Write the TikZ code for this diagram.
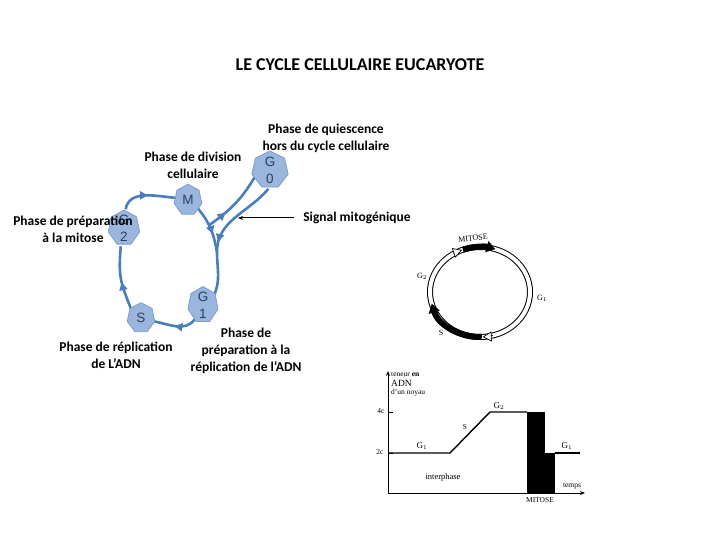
\documentclass[tikz,border=0pt]{standalone}
\usepackage{fontspec}
\setmainfont{Carlito}
\newfontfamily\arialf{Liberation Sans}
\newfontfamily\timesf{Liberation Serif}
\usetikzlibrary{arrows.meta,decorations.markings,shapes.geometric,calc}
\pgfdeclarelayer{bg}
\pgfsetlayers{bg,main}

\definecolor{loopblue}{HTML}{4A7EBB}
\definecolor{hepfill}{HTML}{9AB5DE}
\definecolor{hepdraw}{HTML}{7F9CCB}
\definecolor{heptext}{HTML}{2F3F5A}

\tikzset{
  loopline/.style={draw=loopblue, line width=2.6pt},
  marr/.style={postaction={decorate, decoration={markings,
      mark=at position #1 with {\arrow{Triangle[length=8pt,width=8pt]}}}}},
  hnode/.style={ellipse, inner sep=0pt, font=\arialf\fontsize{13.5}{17}\selectfont, text=heptext, align=center},
  hepshape/.style={draw=hepdraw, fill=hepfill, line width=0.8pt},
  lab/.style={font=\bfseries\fontsize{13.5}{16.8}\selectfont, align=center},
  ringlab/.style={font=\timesf\fontsize{8}{9}\selectfont, inner sep=0pt},
  graphlab/.style={font=\timesf\fontsize{7.5}{9}\selectfont, inner sep=0pt},
}

\newcommand\heptnode[6]{%
  \draw[hepshape, shift={(#2,#3)}, xscale=#4/1.56, yscale=#5/1.9]
    (90:1) -- (141.43:1) -- (192.86:1) -- (244.29:1) -- (295.71:1) -- (347.14:1) -- (38.57:1) -- cycle;
  \node[hnode, minimum width=#4pt, minimum height=#5pt] (#1) at (#2,#3) {#6};}

\begin{document}
\begin{tikzpicture}[x=1pt,y=1pt]
\useasboundingbox (0,0) rectangle (720,540);
\begin{pgfonlayer}{bg}
\fill[white] (0,0) rectangle (720,540);
\end{pgfonlayer}

% title
\node[font=\bfseries\fontsize{18}{21}\selectfont] (title) at (360,475) {LE CYCLE CELLULAIRE EUCARYOTE};

% heptagon nodes
\heptnode{M}{188}{340}{22}{30}{M}
\heptnode{G0}{270}{370}{29}{36}{G\\0}
\heptnode{G2}{124}{312}{25}{34}{G\\2}
\heptnode{S}{141}{222}{22}{29}{S}
\heptnode{G1}{203}{235}{24}{35}{G\\1}

\coordinate (J) at (217,288);

\begin{pgfonlayer}{bg}
  \draw[loopline, marr=0.5] (G2.85) to[out=80, in=175] (M.170);
  \draw[loopline, marr=0.62] (M.-40) to[out=-50, in=100] coordinate[pos=0.42] (B) (J);
  \draw[loopline] (J) to[out=-90, in=65] (G1.40);
  \draw[loopline, marr=0.5] (G1.-120) to[out=-125, in=-10] (S.-15);
  \draw[loopline, marr=0.45] (S.140) to[out=112, in=-95, looseness=1.2] (G2.-100);
  \draw[loopline, marr=0.3] (B) to[out=35, in=-120] (G0.200);
  \draw[loopline, marr=0.88] (G0.-95) to[out=-130, in=90] (J);
\end{pgfonlayer}

% labels
\node[lab] (ldiv) at (193,375) {Phase de division\\cellulaire};
\node[lab] (lqui) at (326,402) {Phase de quiescence\\hors du cycle cellulaire};
\node[lab] (lprep) at (73,311) {Phase de préparation\\à la mitose};
\node[lab] (lrep) at (116,185) {Phase de réplication\\de L’ADN};
\node[lab] (lprepadn) at (246,189) {Phase de\\préparation à la\\réplication de l’ADN};
\node[lab] (sig) at (357,322) {Signal mitogénique};
\coordinate (sigend) at (238,322);
\draw[line width=1pt, -{Stealth[length=5pt,width=4pt]}] ([xshift=-6pt]sig.west) -- (sigend);

% cell cycle ring
\coordinate (rc) at (480,248);
\draw[black, line width=6pt] (rc) ellipse [x radius=50, y radius=45];
\draw[white, line width=4pt] (rc) ellipse [x radius=50, y radius=45];
\draw[line width=6pt, -{Triangle[length=9pt,width=11pt]}] ($(rc)+(110:50 and 45)$) arc[start angle=110, end angle=72, x radius=50, y radius=45];
\draw[line width=6pt, -{Triangle[length=9pt,width=11pt]}] ($(rc)+(-88:50 and 45)$) arc[start angle=-88, end angle=-165, x radius=50, y radius=45];
\draw[line width=0.7pt, -{Triangle[length=9pt,width=10pt,fill=white]}] ($(rc)+(122:50 and 45)$) arc[start angle=122, end angle=111, x radius=50, y radius=45];
\draw[line width=0.7pt, -{Triangle[length=9pt,width=10pt,fill=white]}] ($(rc)+(-75:50 and 45)$) arc[start angle=-75, end angle=-87, x radius=50, y radius=45];
\node[ringlab, rotate=6] (rmit) at (473,302) {MITOSE};
\node[ringlab] (rg2) at (422,264) {G$_2$};
\node[ringlab] (rg1) at (542,242) {G$_1$};
\node[ringlab] (rs) at (441,207) {S};

% DNA content graph
\draw[line width=0.8pt, -{Stealth[length=5pt,width=4pt]}] (388,47) -- (388,169);
\draw[line width=0.8pt, -{Stealth[length=5pt,width=4pt]}] (388,47) -- (585,47);
\draw[line width=0.8pt] (388,128) -- (393,128);
\draw[line width=0.8pt] (388,87) -- (393,87);
\draw[line width=1.4pt] (388,87) -- (450,87) -- (490,128) -- (527,128);
\fill (527,47) rectangle (545,128);
\fill (545,47) rectangle (555,87);
\draw[line width=1.4pt] (555,87) -- (580,87);
\node[graphlab, anchor=west] (gt1) at (391,166) {teneur \textbf{en}};
\node[graphlab, anchor=west, font=\timesf\fontsize{9.5}{10}\selectfont] (gt2) at (391,157) {ADN};
\node[graphlab, anchor=west] (gt3) at (391,147) {d’un noyau};
\node[graphlab] (g4c) at (381,129) {4c};
\node[graphlab] (g2c) at (380,88) {2c};
\node[graphlab, font=\timesf\fontsize{9}{10}\selectfont] (gg1) at (422,94) {G$_1$};
\node[graphlab] (gs) at (465,113) {S};
\node[graphlab, font=\timesf\fontsize{9}{10}\selectfont] (gg2) at (499,134) {G$_2$};
\node[graphlab, font=\timesf\fontsize{9}{10}\selectfont] (gg1b) at (567,94) {G$_1$};
\node[graphlab, font=\timesf\fontsize{8.5}{10}\selectfont] (ginter) at (443,63) {interphase};
\node[graphlab] (gtemps) at (572,54) {temps};
\node[graphlab] (gmit) at (540,40) {MITOSE};
\end{tikzpicture}
\end{document}
